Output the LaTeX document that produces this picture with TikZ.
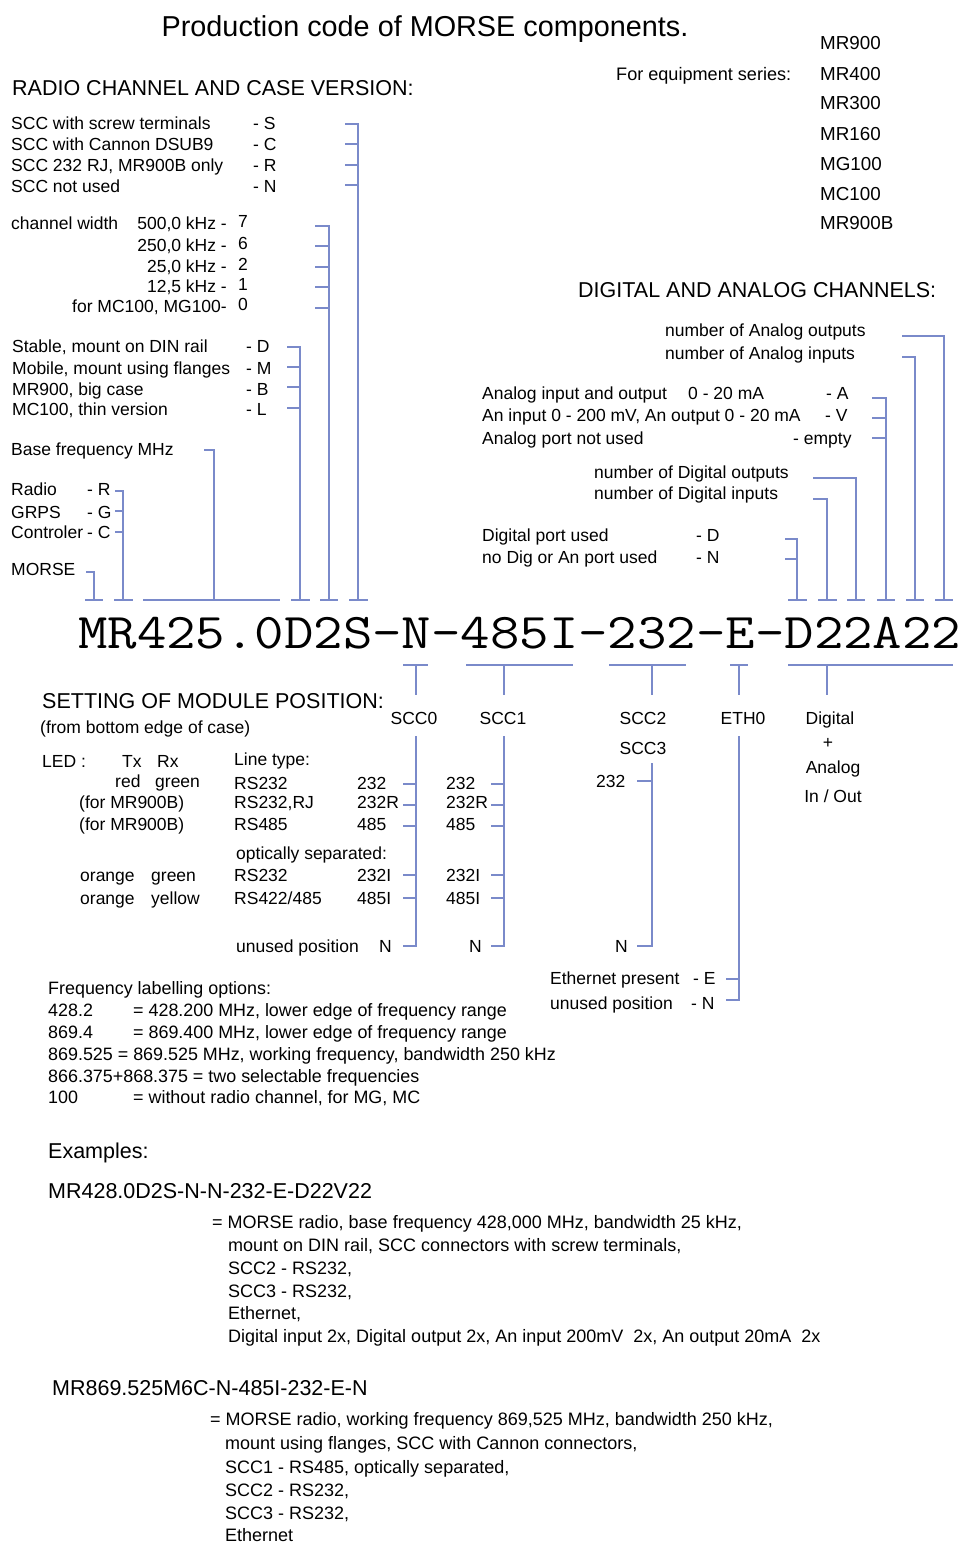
\documentclass[tikz,border=0pt]{standalone}
\usepackage{fontspec}
\setmainfont{Liberation Sans}
\definecolor{lineblue}{RGB}{122,138,202}
\newcommand{\fb}{\fontsize{17.5}{20}\selectfont}
\newcommand{\fq}{\fontsize{17.9}{20}\selectfont}
\newcommand{\fh}{\fontsize{21.5}{24}\selectfont}
\newcommand{\ft}{\fontsize{28.8}{32}\selectfont}
\newcommand{\fm}{\fontsize{18.8}{22}\selectfont}
\newcommand{\fx}{\fontsize{21.5}{24}\selectfont}
\newcommand{\fe}{\fontsize{18}{22}\selectfont}
\newcommand{\fc}{\fontsize{50}{52}\selectfont\ttfamily}
\begin{document}
\begin{tikzpicture}[x=1pt,y=-1pt,
 t/.style={anchor=base west,inner sep=0pt,font=\fb},
 te/.style={anchor=base east,inner sep=0pt,font=\fb},
 tc/.style={anchor=base,inner sep=0pt,font=\fb},
 hd/.style={anchor=base west,inner sep=0pt,font=\fh},
 ex/.style={anchor=base west,inner sep=0pt,font=\fe},
 fq/.style={anchor=base west,inner sep=0pt,font=\fq},
 ln/.style={draw=lineblue,line width=1.05pt}]
\fill[white] (0,0) rectangle (959,1544);
\useasboundingbox (0,0) rectangle (959,1544);

% ---- header
\node[anchor=base,inner sep=0pt,font=\ft] (title) at (425,37) {Production code of MORSE components.};
\node[hd] (hrad) at (12,96) {RADIO CHANNEL AND CASE VERSION:};
\node[t,font=\fontsize{18.1}{20}\selectfont] (fes) at (616,81) {For equipment series:};
\node[t,font=\fm] (s1) at (820,50) {MR900};
\node[t,font=\fm] (s2) at (820,81) {MR400};
\node[t,font=\fm] (s3) at (820,110) {MR300};
\node[t,font=\fm] (s4) at (820,140) {MR160};
\node[t,font=\fm] (s5) at (820,170) {MG100};
\node[t,font=\fm] (s6) at (820,200) {MC100};
\node[t,font=\fm] (s7) at (820,229) {MR900B};
\node[hd] (hdig) at (578,297) {DIGITAL AND ANALOG CHANNELS:};

% ---- SCC connector type
\node[t] (a1) at (11,129) {SCC with screw terminals};
\node[t] (a1v) at (253,129) {- S};
\node[t] (a2) at (11,150) {SCC with Cannon DSUB9};
\node[t] (a2v) at (253,150) {- C};
\node[t] (a3) at (11,171) {SCC 232 RJ, MR900B only};
\node[t] (a3v) at (253,171) {- R};
\node[t] (a4) at (11,192) {SCC not used};
\node[t] (a4v) at (253,192) {- N};
\coordinate (cS) at (358,600);
\draw[ln] (345,124) -| (cS);
\draw[ln] (345,144) -- (358,144);
\draw[ln] (345,165) -- (358,165);
\draw[ln] (345,185) -- (358,185);

% ---- channel width
\node[t] (b0) at (11,229) {channel width};
\node[te] (b1) at (227,229) {500,0 kHz -};
\node[t] (b1v) at (238,227) {7};
\node[te] (b2) at (227,251) {250,0 kHz -};
\node[t] (b2v) at (238,249) {6};
\node[te] (b3) at (227,272) {25,0 kHz -};
\node[t] (b3v) at (238,270) {2};
\node[te] (b4) at (227,292) {12,5 kHz -};
\node[t] (b4v) at (238,290) {1};
\node[te] (b5) at (227,312) {for MC100, MG100-};
\node[t] (b5v) at (238,310) {0};
\coordinate (cW) at (329,600);
\draw[ln] (315,226) -| (cW);
\draw[ln] (315,246) -- (329,246);
\draw[ln] (315,267) -- (329,267);
\draw[ln] (315,287) -- (329,287);
\draw[ln] (315,308) -- (329,308);

% ---- case version
\node[t] (c1) at (12,352) {Stable, mount on DIN rail};
\node[t] (c1v) at (246,352) {- D};
\node[t] (c2) at (12,374) {Mobile, mount using flanges};
\node[t] (c2v) at (246,374) {- M};
\node[t] (c3) at (12,395) {MR900, big case};
\node[t] (c3v) at (246,395) {- B};
\node[t] (c4) at (12,415) {MC100, thin version};
\node[t] (c4v) at (246,415) {- L};
\coordinate (cC) at (300,600);
\draw[ln] (287,347) -| (cC);
\draw[ln] (287,367) -- (300,367);
\draw[ln] (287,387) -- (300,387);
\draw[ln] (287,408) -- (300,408);

% ---- base frequency
\node[t] (bf) at (11,455) {Base frequency MHz};
\coordinate (cF) at (214,600);
\draw[ln] (204,450) -| (cF);

% ---- type
\node[t] (d1) at (11,495) {Radio};
\node[t] (d1v) at (87,495) {- R};
\node[t] (d2) at (11,518) {GRPS};
\node[t] (d2v) at (87,518) {- G};
\node[t] (d3) at (11,538) {Controler};
\node[t] (d3v) at (87,538) {- C};
\coordinate (cT) at (123,600);
\draw[ln] (115,491) -| (cT);
\draw[ln] (115,511) -- (123,511);
\draw[ln] (115,532) -- (123,532);
\node[t] (mo) at (11,575) {MORSE};
\coordinate (cM) at (94,600);
\draw[ln] (86,572) -| (cM);

% ---- top ticks of the code
\draw[ln] (85,600) -- (103,600);
\draw[ln] (114,600) -- (133,600);
\draw[ln] (143,600) -- (280,600);
\draw[ln] (291,600) -- (310,600);
\draw[ln] (320,600) -- (338,600);
\draw[ln] (349,600) -- (368,600);
\draw[ln] (788,600) -- (807,600);
\draw[ln] (818,600) -- (837,600);
\draw[ln] (847,600) -- (865,600);
\draw[ln] (877,600) -- (895,600);
\draw[ln] (906,600) -- (924,600);
\draw[ln] (935,600) -- (953,600);

% ---- digital / analog
\node[t] (e1) at (665,336) {number of Analog outputs};
\node[t] (e2) at (665,359) {number of Analog inputs};
\coordinate (cAO) at (944,600);
\coordinate (cAI) at (915,600);
\draw[ln] (902,336) -| (cAO);
\draw[ln] (902,357) -| (cAI);
\node[t] (f1) at (482,399) {Analog input and output};
\node[t] (f1b) at (688,399) {0 - 20 mA};
\node[t] (f1v) at (826,399) {- A};
\node[t] (f2) at (482,421) {An input 0 - 200 mV, An output 0 - 20 mA};
\node[t] (f2v) at (825,421) {- V};
\node[t] (f3) at (482,444) {Analog port not used};
\node[t] (f3v) at (793,444) {- empty};
\coordinate (cA) at (886,600);
\draw[ln] (872,398) -| (cA);
\draw[ln] (872,418) -- (886,418);
\draw[ln] (872,438) -- (886,438);
\node[t] (g1) at (594,478) {number of Digital outputs};
\node[t] (g2) at (594,499) {number of Digital inputs};
\coordinate (cDO) at (856,600);
\coordinate (cDI) at (827,600);
\draw[ln] (813,478) -| (cDO);
\draw[ln] (813,499) -| (cDI);
\node[t] (h1) at (482,541) {Digital port used};
\node[t] (h1v) at (696,541) {- D};
\node[t] (h2) at (482,563) {no Dig or An port used};
\node[t] (h2v) at (696,563) {- N};
\coordinate (cD) at (797,600);
\draw[ln] (785,539) -| (cD);
\draw[ln] (785,559) -- (797,559);

% ---- the code
\node[anchor=base west,inner sep=0pt,font=\fc] (code) at (78,648) {\scalebox{1.143}[1]{MR425.0D2S-N-485I-232-E-D22A22}};

% ---- bottom ticks of the code
\draw[ln] (403,665) -- (428,665);
\draw[ln] (466,665) -- (573,665);
\draw[ln] (609,665) -- (686,665);
\draw[ln] (730,665) -- (748,665);
\draw[ln] (788,665) -- (953,665);
\draw[ln] (416,665) -- (416,695);
\draw[ln] (504,665) -- (504,695);
\draw[ln] (652,665) -- (652,695);
\draw[ln] (739,665) -- (739,695);
\draw[ln] (827,665) -- (827,695);

\node[tc] (scc0) at (414,724) {SCC0};
\node[tc] (scc1) at (503,724) {SCC1};
\node[tc] (scc2) at (643,724) {SCC2};
\node[tc] (scc3) at (643,754) {SCC3};
\node[tc] (eth0) at (743,724) {ETH0};
\node[tc] (dg1) at (830,724) {Digital};
\node[tc] (dg2) at (828,748) {+};
\node[tc] (dg3) at (833,773) {Analog};
\node[tc] (dg4) at (833,802) {In / Out};

% ---- setting of module position
\node[hd] (hset) at (42,708) {SETTING OF MODULE POSITION:};
\node[t] (hset2) at (40,733) {(from bottom edge of case)};
\node[t] (led) at (42,767) {LED :};
\node[t] (tx) at (122,767) {Tx};
\node[t] (rx) at (157,767) {Rx};
\node[t] (lt) at (234,765) {Line type:};
\node[t] (l1a) at (115,787) {red};
\node[t] (l1b) at (155,787) {green};
\node[t] (r1) at (234,789) {RS232};
\node[t] (r1a) at (357,789) {232};
\node[t] (r1b) at (446,789) {232};
\node[t] (l2) at (79,808) {(for MR900B)};
\node[t] (r2) at (234,808) {RS232,RJ};
\node[t] (r2a) at (357,808) {232R};
\node[t] (r2b) at (446,808) {232R};
\node[t] (l3) at (79,830) {(for MR900B)};
\node[t] (r3) at (234,830) {RS485};
\node[t] (r3a) at (357,830) {485};
\node[t] (r3b) at (446,830) {485};
\node[t] (opt) at (236,859) {optically separated:};
\node[t] (l4a) at (80,881) {orange};
\node[t] (l4b) at (151,881) {green};
\node[t] (r4) at (234,881) {RS232};
\node[t] (r4a) at (357,881) {232I};
\node[t] (r4b) at (446,881) {232I};
\node[t] (l5a) at (80,904) {orange};
\node[t] (l5b) at (151,904) {yellow};
\node[t] (r5) at (234,904) {RS422/485};
\node[t] (r5a) at (357,904) {485I};
\node[t] (r5b) at (446,904) {485I};
\node[t] (un) at (236,952) {unused position};
\node[t] (una) at (379,952) {N};
\node[t] (unb) at (469,952) {N};
% SCC0 bracket
\coordinate (k0) at (416,736);
\draw[ln] (k0) |- (403,946);
\foreach \yy in {784,805,826,875,898} \draw[ln] (403,\yy) -- (416,\yy);
% SCC1 bracket
\coordinate (k1) at (504,736);
\draw[ln] (k1) |- (491,946);
\foreach \yy in {784,805,826,875,898} \draw[ln] (491,\yy) -- (504,\yy);
% SCC2 bracket
\node[t] (s2a) at (596,787) {232};
\node[t] (s2n) at (615,952) {N};
\coordinate (k2) at (652,763);
\draw[ln] (k2) |- (637,946);
\draw[ln] (637,781) -- (652,781);
% ETH bracket
\node[t] (et1) at (550,984) {Ethernet present};
\node[t] (et1v) at (693,984) {- E};
\node[t] (et2) at (550,1009) {unused position};
\node[t] (et2v) at (691,1009) {- N};
\coordinate (k3) at (739,736);
\draw[ln] (k3) |- (726,1000);
\draw[ln] (726,979) -- (739,979);

% ---- frequency labelling
\node[fq] (fq0) at (48,994) {Frequency labelling options:};
\node[fq] (fq1) at (48,1016) {428.2};
\node[fq] (fq1b) at (133,1016) {= 428.200 MHz, lower edge of frequency range};
\node[fq] (fq2) at (48,1038) {869.4};
\node[fq] (fq2b) at (133,1038) {= 869.400 MHz, lower edge of frequency range};
\node[fq] (fq3) at (48,1060) {869.525 = 869.525 MHz, working frequency, bandwidth 250 kHz};
\node[fq] (fq4) at (48,1082) {866.375+868.375 = two selectable frequencies};
\node[fq] (fq5) at (48,1103) {100};
\node[fq] (fq5b) at (133,1103) {= without radio channel, for MG, MC};

% ---- examples
\node[anchor=base west,inner sep=0pt,font=\fx] (exh) at (48,1158) {Examples:};
\node[anchor=base west,inner sep=0pt,font=\fx] (ex1) at (48,1198) {MR428.0D2S-N-N-232-E-D22V22};
\node[ex] (ex1a) at (212,1228) {= MORSE radio, base frequency 428,000 MHz, bandwidth 25 kHz,};
\node[ex] (ex1b) at (228,1251) {mount on DIN rail, SCC connectors with screw terminals,};
\node[ex] (ex1c) at (228,1274) {SCC2 - RS232,};
\node[ex] (ex1d) at (228,1297) {SCC3 - RS232,};
\node[ex] (ex1e) at (228,1319) {Ethernet,};
\node[ex] (ex1f) at (228,1342) {Digital input 2x, Digital output 2x, An input 200mV\ \ 2x, An output 20mA\ \ 2x};
\node[anchor=base west,inner sep=0pt,font=\fx] (ex2) at (52,1395) {MR869.525M6C-N-485I-232-E-N};
\node[ex] (ex2a) at (210,1425) {= MORSE radio, working frequency 869,525 MHz, bandwidth 250 kHz,};
\node[ex] (ex2b) at (225,1449) {mount using flanges, SCC with Cannon connectors,};
\node[ex] (ex2c) at (225,1473) {SCC1 - RS485, optically separated,};
\node[ex] (ex2d) at (225,1496) {SCC2 - RS232,};
\node[ex] (ex2e) at (225,1519) {SCC3 - RS232,};
\node[ex] (ex2f) at (225,1541) {Ethernet};
\end{tikzpicture}
\end{document}
